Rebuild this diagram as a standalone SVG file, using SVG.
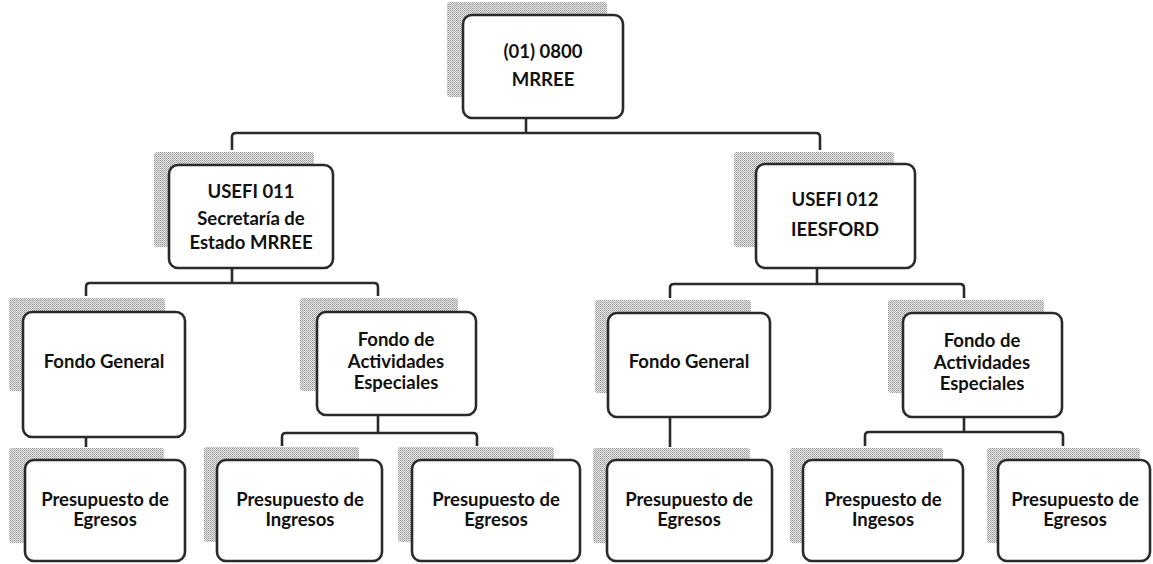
<svg xmlns="http://www.w3.org/2000/svg" width="1153" height="564" viewBox="0 0 1153 564">
<defs>
<pattern id="dots" width="2" height="2" patternUnits="userSpaceOnUse">
<rect width="2" height="2" fill="#e6e6e6"/>
<rect width="1" height="1" fill="#9a9a9a"/>
<rect x="1" y="1" width="1" height="1" fill="#b4b4b4"/>
</pattern>
</defs>
<style>
.sh{fill:url(#dots);}
.bx{fill:#ffffff;stroke:#2a2a2a;stroke-width:2.6;}
.t{font-family:Lato,"Liberation Sans",sans-serif;font-weight:bold;font-size:18.5px;fill:#111;text-anchor:middle;}
.c{fill:none;stroke:#2a2a2a;stroke-width:2.6;stroke-linejoin:round;}
</style>
<rect width="1153" height="564" fill="#ffffff"/>
<g id="connectors">
<path class="c" d="M526,118 V133"/>
<path class="c" d="M232,150 V137 Q232,133 236,133 H816 Q820,133 820,137 V150"/>
<path class="c" d="M232,268 V283"/>
<path class="c" d="M86,296 V287 Q86,283 90,283 H374 Q378,283 378,287 V296"/>
<path class="c" d="M817,268 V284"/>
<path class="c" d="M670,298 V288 Q670,284 674,284 H960 Q964,284 964,288 V298"/>
<path class="c" d="M86,437 V447"/>
<path class="c" d="M378,415 V433"/>
<path class="c" d="M282,446 V437 Q282,433 286,433 H473 Q477,433 477,437 V446"/>
<path class="c" d="M670,417 V447"/>
<path class="c" d="M964,417 V432"/>
<path class="c" d="M865,446 V436 Q865,432 869,432 H1059 Q1063,432 1063,436 V446"/>
</g>
<g id="n0">
<rect class="sh" x="447" y="2" width="160" height="95" rx="3"/>
<rect class="bx" x="463" y="15" width="160" height="103" rx="9"/>
<text class="t" x="543" y="58">(01) 0800</text>
<text class="t" x="543" y="86">MRREE</text>
</g>
<g id="n1">
<rect class="sh" x="154" y="152" width="160" height="95" rx="3"/>
<rect class="bx" x="169" y="165" width="164" height="103" rx="9"/>
<text class="t" x="251" y="198">USEFI 011</text>
<text class="t" x="251" y="225">Secretaría de</text>
<text class="t" x="251" y="249">Estado MRREE</text>
</g>
<g id="n2">
<rect class="sh" x="734" y="152" width="160" height="95" rx="3"/>
<rect class="bx" x="756" y="164" width="159" height="104" rx="9"/>
<text class="t" x="835" y="206">USEFI 012</text>
<text class="t" x="835" y="236">IEESFORD</text>
</g>
<g id="n3">
<rect class="sh" x="9" y="298" width="156" height="93" rx="3"/>
<rect class="bx" x="23" y="312" width="162" height="125" rx="9"/>
<text class="t" x="104" y="368">Fondo General</text>
</g>
<g id="n4">
<rect class="sh" x="300" y="298" width="158" height="93" rx="3"/>
<rect class="bx" x="317" y="312" width="159" height="103" rx="9"/>
<text class="t" x="396" y="346">Fondo de</text>
<text class="t" x="396" y="368">Actividades</text>
<text class="t" x="396" y="389">Especiales</text>
</g>
<g id="n5">
<rect class="sh" x="595" y="300" width="156" height="93" rx="3"/>
<rect class="bx" x="608" y="313" width="162" height="104" rx="9"/>
<text class="t" x="689" y="368">Fondo General</text>
</g>
<g id="n6">
<rect class="sh" x="888" y="300" width="156" height="93" rx="3"/>
<rect class="bx" x="903" y="313" width="159" height="104" rx="9"/>
<text class="t" x="982" y="347">Fondo de</text>
<text class="t" x="982" y="369">Actividades</text>
<text class="t" x="982" y="390">Especiales</text>
</g>
<g id="n7">
<rect class="sh" x="9" y="448" width="155" height="95" rx="3"/>
<rect class="bx" x="25" y="460" width="160" height="101" rx="9"/>
<text class="t" x="105" y="506">Presupuesto de</text>
<text class="t" x="105" y="526">Egresos</text>
</g>
<g id="n8">
<rect class="sh" x="204" y="447" width="155" height="95" rx="3"/>
<rect class="bx" x="217" y="460" width="165" height="101" rx="9"/>
<text class="t" x="300" y="506">Presupuesto de</text>
<text class="t" x="300" y="526">Ingresos</text>
</g>
<g id="n9">
<rect class="sh" x="398" y="447" width="156" height="95" rx="3"/>
<rect class="bx" x="412" y="460" width="168" height="101" rx="9"/>
<text class="t" x="496" y="506">Presupuesto de</text>
<text class="t" x="496" y="526">Egresos</text>
</g>
<g id="n10">
<rect class="sh" x="593" y="448" width="157" height="95" rx="3"/>
<rect class="bx" x="607" y="460" width="165" height="101" rx="9"/>
<text class="t" x="689" y="506">Presupuesto de</text>
<text class="t" x="689" y="526">Egresos</text>
</g>
<g id="n11">
<rect class="sh" x="790" y="448" width="153" height="95" rx="3"/>
<rect class="bx" x="803" y="460" width="160" height="101" rx="9"/>
<text class="t" x="883" y="506">Prespuesto de</text>
<text class="t" x="883" y="526">Ingesos</text>
</g>
<g id="n12">
<rect class="sh" x="987" y="448" width="153" height="95" rx="3"/>
<rect class="bx" x="998" y="460" width="152" height="101" rx="9"/>
<text class="t" x="1075" y="506">Presupuesto de</text>
<text class="t" x="1075" y="526">Egresos</text>
</g>
</svg>
